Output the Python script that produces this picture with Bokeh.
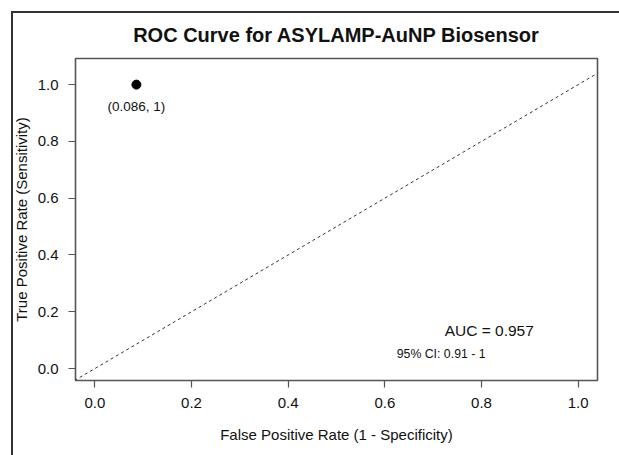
from bokeh.plotting import figure
from bokeh.models import Range1d, Label, Slope, PrintfTickFormatter
from bokeh.embed import file_html
from bokeh.resources import INLINE

# ---- data ----
title_text = "ROC Curve for ASYLAMP-AuNP Biosensor"
x_label = "False Positive Rate (1 - Specificity)"
y_label = "True Positive Rate (Sensitivity)"
x_ticks = [0.0, 0.2, 0.4, 0.6, 0.8, 1.0]
y_ticks = [0.0, 0.2, 0.4, 0.6, 0.8, 1.0]
opt_fpr = [0.086]
opt_tpr = [1.0]
auc_value = 0.957
ci_low = 0.91
ci_high = 1
diag_gradient = 1
diag_intercept = 0

FONT = "Liberation Sans"
x0, x1 = -0.04, 1.04
y0, y1 = -0.042, 1.092

p = figure(width=619, height=455, output_backend="svg", toolbar_location=None,
           x_range=Range1d(x0, x1), y_range=Range1d(y0, y1),
           min_border_left=75, min_border_right=22, min_border_top=58, min_border_bottom=75)
# outer frame lines (left and top) drawn behind a transparent border area
p.styles = {
    "background-image": "linear-gradient(#333333, #333333), linear-gradient(#333333, #333333)",
    "background-size": "2px 100%, 100% 2px",
    "background-position": "11px 11px, 11px 11px",
    "background-repeat": "no-repeat",
}
p.grid.visible = False
p.background_fill_color = "white"
p.border_fill_alpha = 0
p.outline_line_color = "#555555"
p.outline_line_width = 1.6

p.title.text = title_text
p.title.align = "center"
p.title.text_font = FONT
p.title.text_font_size = "20px"
p.title.text_font_style = "bold"
p.title.text_color = "#111111"
p.title.standoff = 26

for ax, ticks in ((p.xaxis, x_ticks), (p.yaxis, y_ticks)):
    ax.ticker = ticks
    ax.formatter = PrintfTickFormatter(format="%.1f")
    ax.axis_line_color = None
    ax.major_tick_in = 0
    ax.major_tick_out = 7
    ax.major_tick_line_color = "#555555"
    ax.major_tick_line_width = 1.2
    ax.minor_tick_line_color = None
    ax.major_label_text_font = FONT
    ax.major_label_text_font_size = "15px"
    ax.major_label_text_color = "#111111"
    ax.axis_label_text_font = FONT
    ax.axis_label_text_font_size = "15px"
    ax.axis_label_text_font_style = "normal"
    ax.axis_label_text_color = "#111111"

p.xaxis.axis_label = x_label
p.yaxis.axis_label = y_label
p.xaxis.major_label_standoff = 10
p.xaxis.axis_label_standoff = 15
p.yaxis.major_label_standoff = 10
p.yaxis.axis_label_standoff = 5

# reference diagonal
p.add_layout(Slope(gradient=diag_gradient, y_intercept=diag_intercept,
                   line_color="#333333", line_width=1, line_dash="3 3"))

# optimal point
p.scatter(opt_fpr, opt_tpr, size=9, color="black", marker="circle")
p.add_layout(Label(x=opt_fpr[0], y=opt_tpr[0], y_offset=-22,
                   text=f"({opt_fpr[0]:g}, {opt_tpr[0]:g})",
                   text_align="center", text_baseline="middle",
                   text_font=FONT, text_font_size="13.5px", text_color="#111111"))

# AUC text
p.add_layout(Label(x=0.816, y=0.134, text=f"AUC = {auc_value}",
                   text_align="center", text_baseline="middle",
                   text_font=FONT, text_font_size="15.5px", text_color="#111111"))
p.add_layout(Label(x=0.7165, y=0.053, text=f"95% CI: {ci_low} - {ci_high}",
                   text_align="center", text_baseline="middle",
                   text_font=FONT, text_font_size="12.3px", text_color="#111111"))

open("out.html", "w").write(file_html(p, INLINE))
